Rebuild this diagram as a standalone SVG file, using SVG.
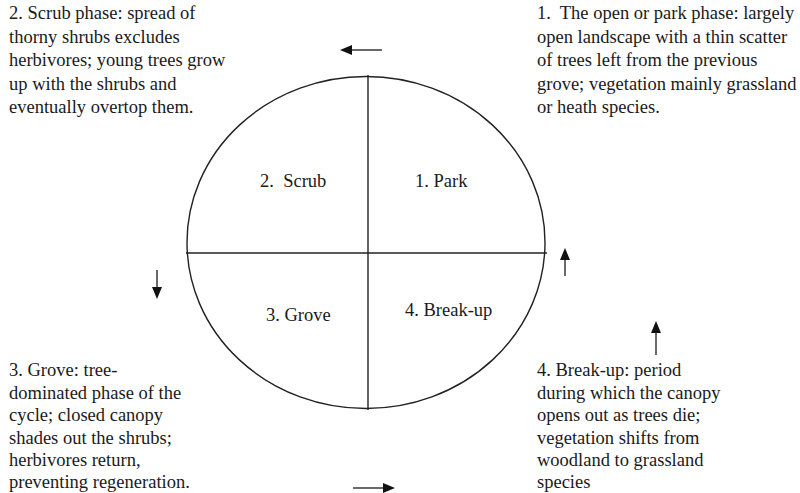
<svg xmlns="http://www.w3.org/2000/svg" width="800" height="493" viewBox="0 0 800 493">
<defs>
<style>
text{font-family:"Liberation Serif","Times New Roman",serif;font-size:18.5px;fill:#1a1a1a}
.ln{stroke:#222;stroke-width:1.4;fill:none}
.ar{stroke:#444;stroke-width:1.6;fill:none}
.hd{fill:#111}
</style>
</defs>
<rect width="800" height="493" fill="#fff"/>
<g id="cycle">
<ellipse class="ln" cx="366" cy="242.5" rx="179" ry="166"/>
<line class="ln" x1="368" y1="75" x2="368" y2="410"/>
<line class="ln" x1="186" y1="253" x2="547" y2="253"/>
</g>
<g id="park"><text x="415" y="187">1. Park</text></g>
<g id="scrub"><text x="260" y="187" xml:space="preserve">2.  Scrub</text></g>
<g id="grove"><text x="266" y="321">3. Grove</text></g>
<g id="breakup"><text x="405" y="316">4. Break-up</text></g>
<g id="desc1">
<text x="537" y="19" xml:space="preserve">1.  The open or park phase: largely</text>
<text x="537" y="42.5">open landscape with a thin scatter</text>
<text x="537" y="66">of trees left from the previous</text>
<text x="537" y="89.5">grove; vegetation mainly grassland</text>
<text x="537" y="113">or heath species.</text>
</g>
<g id="desc2">
<text x="9" y="19">2. Scrub phase: spread of</text>
<text x="9" y="42.5">thorny shrubs excludes</text>
<text x="9" y="66">herbivores; young trees grow</text>
<text x="9" y="89.5">up with the shrubs and</text>
<text x="9" y="113">eventually overtop them.</text>
</g>
<g id="desc3">
<text x="9" y="376">3. Grove: tree-</text>
<text x="9" y="398.5">dominated phase of the</text>
<text x="9" y="421">cycle; closed canopy</text>
<text x="9" y="443.5">shades out the shrubs;</text>
<text x="9" y="466">herbivores return,</text>
<text x="9" y="488">preventing regeneration.</text>
</g>
<g id="desc4">
<text x="537" y="376">4. Break-up: period</text>
<text x="537" y="398.5">during which the canopy</text>
<text x="537" y="421">opens out as trees die;</text>
<text x="537" y="443.5">vegetation shifts from</text>
<text x="537" y="466">woodland to grassland</text>
<text x="537" y="488">species</text>
</g>
<g id="connectors">
<line class="ar" x1="351" y1="50" x2="382" y2="50"/>
<polygon class="hd" points="340,50 352,45 352,55"/>
<line class="ar" x1="353" y1="488" x2="384" y2="488"/>
<polygon class="hd" points="395,488 383,483 383,493"/>
<line class="ar" x1="157" y1="270" x2="157" y2="288"/>
<polygon class="hd" points="157,299 152,287 162,287"/>
<line class="ar" x1="565" y1="258" x2="565" y2="276"/>
<polygon class="hd" points="565,248 560,260 570,260"/>
<line class="ar" x1="656" y1="332" x2="656" y2="355"/>
<polygon class="hd" points="656,321 651,333 661,333"/>
</g>
</svg>
